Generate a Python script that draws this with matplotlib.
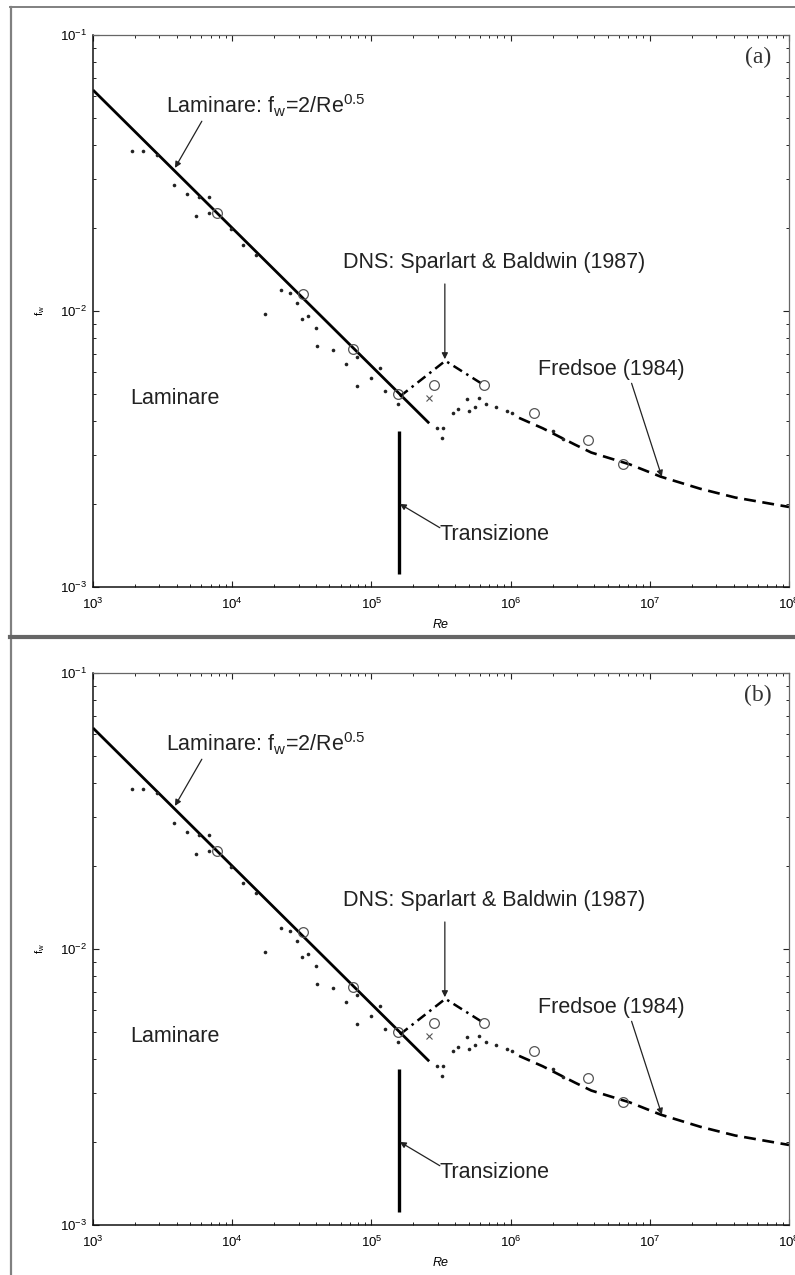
import matplotlib
matplotlib.use("Agg")
import matplotlib.pyplot as plt
from matplotlib.lines import Line2D

plt.rcParams["font.family"] = ["Liberation Sans", "DejaVu Sans"]
plt.rcParams["mathtext.fontset"] = "custom"
plt.rcParams["mathtext.rm"] = "Liberation Sans"
plt.rcParams["mathtext.it"] = "Liberation Sans:italic"

# Legge laminare f_w = 2/Re^0.5 (estremi del tratto)
lam_re = [1.0e3, 2.6e5]
lam_fw = [0.0632, 0.00392]

# Linea di transizione
trans_re = [1.57e5, 1.57e5]
trans_fw = [0.00111, 0.00367]

# DNS Sparlart & Baldwin (1987)
dns_re = [1.6e5, 3.4e5, 6.4e5]
dns_fw = [0.0049, 0.0066, 0.0054]

# Fredsoe (1984)
fred_re = [1.15e6, 1.7e6, 2.9e6, 3.8e6, 7.2e6, 1.2e7, 2.3e7, 4.1e7, 1.0e8]
fred_fw = [0.0041, 0.00376, 0.00328, 0.00307, 0.00278, 0.00251, 0.00227, 0.00211, 0.00195]

# Dati sperimentali (punti)
dot_re = [1.91e3, 2.29e3, 2.88e3, 3.81e3, 4.73e3, 5.77e3, 6.81e3, 5.48e3, 6.81e3,
          9.79e3, 1.19e4, 1.48e4, 2.24e4, 2.60e4, 2.91e4, 1.72e4, 3.16e4, 3.49e4,
          3.99e4, 4.06e4, 5.28e4, 6.55e4, 7.85e4, 7.85e4, 9.91e4, 1.15e5, 1.25e5,
          1.55e5, 2.94e5, 3.26e5, 3.20e5, 3.84e5, 4.17e5, 4.84e5, 5.00e5, 5.52e5,
          5.90e5, 6.62e5, 7.82e5, 9.37e5, 1.02e6, 2.00e6, 2.37e6]
dot_fw = [0.0379, 0.0379, 0.0366, 0.0287, 0.0266, 0.0258, 0.0258, 0.0220, 0.0227,
          0.0199, 0.0174, 0.0160, 0.0119, 0.0116, 0.0107, 0.00976, 0.00935, 0.00959,
          0.00867, 0.00746, 0.00722, 0.00641, 0.00681, 0.00534, 0.00570, 0.00621, 0.00512,
          0.00462, 0.00378, 0.00376, 0.00348, 0.00426, 0.00441, 0.00479, 0.00433, 0.00448,
          0.00483, 0.00462, 0.00448, 0.00433, 0.00426, 0.00369, 0.00345]

# Dati sperimentali (cerchi)
circ_re = [7.76e3, 3.22e4, 7.35e4, 1.55e5, 2.81e5, 6.41e5, 1.47e6, 3.57e6, 6.38e6]
circ_fw = [0.0227, 0.0115, 0.0073, 0.0050, 0.0054, 0.0054, 0.00426, 0.0034, 0.0028]

# Punto singolo (croce)
cross_re = [2.58e5]
cross_fw = [0.00483]

W, H = 795, 1275
fig = plt.figure(figsize=(W / 100, H / 100), dpi=100)

freccia = dict(arrowstyle="-|>", color="#222222", lw=0.9, mutation_scale=9,
               shrinkA=0, shrinkB=0)
tam_font = 15.5


def pannello(ax, lettera):
    ax.set_xscale("log")
    ax.set_yscale("log")
    ax.set_xlim(1e3, 1e8)
    ax.set_ylim(1e-3, 1e-1)

    ax.plot(lam_re, lam_fw, color="black", lw=2.0, solid_capstyle="butt")
    ax.plot(trans_re, trans_fw, color="black", lw=2.4, solid_capstyle="butt")
    ax.plot(dns_re, dns_fw, color="black", lw=1.8, linestyle=(0, (4, 2, 1, 2)))
    ax.plot(fred_re, fred_fw, color="black", lw=1.9, linestyle=(0, (4.5, 2.5)))
    ax.plot(dot_re, dot_fw, linestyle="none", marker="o", markersize=2.6,
            color="#222222", markeredgewidth=0)
    ax.plot(circ_re, circ_fw, linestyle="none", marker="o", markersize=7,
            markerfacecolor="none", markeredgecolor="#555555", markeredgewidth=0.9)
    ax.plot(cross_re, cross_fw, linestyle="none", marker="x", markersize=4,
            color="#555555", markeredgewidth=0.8)

    # annotazioni
    ax.text(3.34e3, 0.0556, r"Laminare: f$_\mathregular{w}$=2/Re$^\mathregular{0.5}$",
            fontsize=tam_font, ha="left", va="center", color="#222222")
    ax.annotate("", xy=(3.88e3, 0.033), xytext=(6.05e3, 0.0487), arrowprops=freccia)

    ax.text(7.57e5, 0.01496, "DNS: Sparlart & Baldwin (1987)", fontsize=tam_font,
            ha="center", va="center", color="#222222")
    ax.annotate("", xy=(3.37e5, 0.00669), xytext=(3.37e5, 0.01253), arrowprops=freccia)

    ax.text(5.32e6, 0.00616, "Fredsoe (1984)", fontsize=tam_font,
            ha="center", va="center", color="#222222")
    ax.annotate("", xy=(1.22e7, 0.00251), xytext=(7.4e6, 0.00547), arrowprops=freccia)

    ax.text(3.1e5, 0.00155, "Transizione", fontsize=tam_font,
            ha="left", va="center", color="#222222")
    ax.annotate("", xy=(1.6e5, 0.0020), xytext=(3.1e5, 0.00164), arrowprops=freccia)

    ax.text(1.84e3, 0.00483, "Laminare", fontsize=tam_font,
            ha="left", va="center", color="#222222")

    ax.text(0.955, 0.960, lettera, transform=ax.transAxes, fontsize=17,
            family="Liberation Serif", ha="center", va="center", color="#333333")

    # assi in stile MATLAB
    ax.tick_params(which="both", direction="in", top=True, right=True,
                   labelsize=9.5, color="#222222")
    ax.tick_params(which="major", length=4, width=0.8)
    ax.tick_params(which="minor", length=2.5, width=0.7)
    ax.tick_params(axis="x", pad=7)
    ax.tick_params(axis="y", pad=4)
    for lato in ["left", "bottom"]:
        ax.spines[lato].set_linewidth(1.1)
        ax.spines[lato].set_color("#111111")
    for lato in ["top", "right"]:
        ax.spines[lato].set_linewidth(0.9)
        ax.spines[lato].set_color("#666666")

    ax.text(0.5, -38 / 552, "Re", transform=ax.transAxes, fontsize=9,
            style="italic", ha="center", va="center")
    ax.text(-53 / 696, 0.5, r"f$_\mathregular{w}$", transform=ax.transAxes,
            fontsize=8, rotation=90, ha="center", va="center")


ax_a = fig.add_axes([93 / W, 1 - 587 / H, 696 / W, 552 / H])
pannello(ax_a, "(a)")

ax_b = fig.add_axes([93 / W, 1 - 1225 / H, 696 / W, 552 / H])
pannello(ax_b, "(b)")

# cornici grigie dei due riquadri
def linea(x0, y0, x1, y1, lw, col):
    fig.add_artist(Line2D([x0 / W, x1 / W], [1 - y0 / H, 1 - y1 / H],
                          transform=fig.transFigure, lw=lw, color=col))


linea(10, 7, W, 7, 1.4, "#808080")
linea(11, 7, 11, H, 1.6, "#808080")
linea(10, 637, W, 637, 3.0, "#666666")

fig.savefig("out.png", dpi=100)
